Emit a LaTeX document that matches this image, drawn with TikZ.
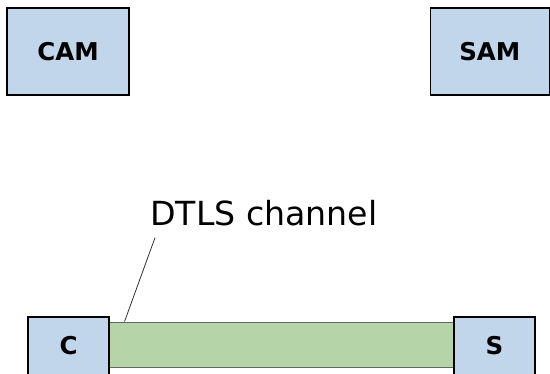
\documentclass[tikz,border=0pt]{standalone}
\usepackage{fontspec}
\setmainfont{DejaVu Sans}
\usetikzlibrary{positioning}

\definecolor{boxblue}{RGB}{193,213,235}
\definecolor{pipegreen}{RGB}{181,212,168}

\tikzset{
  party/.style={draw=black, line width=1.4pt, fill=boxblue, inner sep=0pt,
    font=\fontsize{24.5pt}{28pt}\selectfont\bfseries},
  pipe/.style={draw=black!60, line width=0.9pt, fill=pipegreen, inner sep=0pt},
  leader/.style={draw=black!80, line width=0.8pt}
}

\begin{document}
\begin{tikzpicture}[x=1pt, y=1pt]
    \useasboundingbox (0,0) rectangle (550,373);

    % Channel between client and server, drawn first so the boxes sit on top
    \node (channel) [pipe, minimum width=345pt, minimum height=45pt] at (281.5,28.5) {};

    % Top row
    \node (cam) [party, minimum width=122pt, minimum height=87pt] at (68,321.5) {CAM};
    \node (sam) [party, minimum width=119pt, minimum height=87pt] at (489.75,321.5) {SAM};

    % Bottom row, boxes run past the lower edge
    \node (client) [party, minimum width=81pt, minimum height=58pt] at (68.5,27) {C};
    \node (server) [party, minimum width=81pt, minimum height=58pt] at (494.5,27) {S};

    % Label with its pointer down to the channel
    \node (chanlabel) [inner sep=0pt, anchor=base west,
        font=\fontsize{33.2pt}{38pt}\selectfont] at (150,147) {DTLS channel};
    \draw[leader] ([shift={(5pt,-11pt)}]chanlabel.south west) -- ([xshift=16pt]channel.north west);
\end{tikzpicture}
\end{document}
